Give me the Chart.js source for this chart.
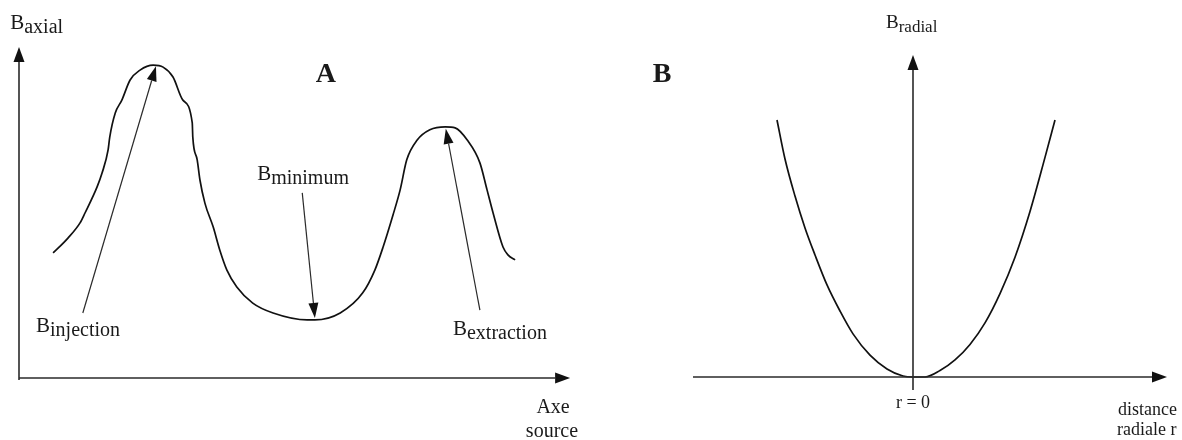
<!DOCTYPE html>
<html>
<head>
<meta charset="utf-8">
<script src="https://cdn.jsdelivr.net/npm/chart.js@4/dist/chart.umd.min.js"></script>
<style>
  html, body { margin: 0; padding: 0; background: #fff; }
  #wrap { position: relative; width: 1182px; height: 440px; overflow: hidden; }
  .panel { position: absolute; top: 0; height: 440px; }
  #panelA { left: 0; width: 600px; }
  #panelB { left: 600px; width: 582px; }
</style>
</head>
<body>
<div id="wrap">
  <div class="panel" id="panelA"><canvas id="chartA"></canvas></div>
  <div class="panel" id="panelB"><canvas id="chartB"></canvas></div>
</div>
<script>
// --- A: axial field profile along the source axis (arbitrary units) ---
const axialPos = [
  6.2, 8.9, 11.1, 12.0, 14.2, 15.1, 16.2, 16.5, 17.5, 18.7, 20.2, 22.0, 24.4,
  26.2, 28.0, 29.8, 31.5, 31.6, 32.4, 32.9, 33.8, 35.3, 36.5, 37.8, 39.6, 42.5,
  46.2, 52.4, 53.8, 58.4, 62.5, 64.7, 66.2, 68.0, 69.3, 70.5, 72.4, 74.7, 77.5,
  79.3, 81.5, 83.8, 85.1, 86.2, 88.0, 88.9, 90.2,
];
const axialField = [
  37.9, 42.4, 47.0, 50.0, 57.9, 62.1, 69.1, 73.0, 80.3, 84.2, 90.3, 93.3, 94.8,
  94.2, 91.2, 84.2, 77.3, 73.0, 66.1, 60.0, 53.0, 45.8, 38.8, 32.7, 27.6, 22.7,
  19.7, 17.6, 17.6, 19.7, 25.8, 32.7, 39.7, 49.4, 57.0, 66.1, 72.1, 75.2, 76.1,
  75.8, 72.1, 65.2, 57.0, 50.0, 39.7, 37.3, 35.8,
];

// --- B: radial field against radial distance r ---
const radialDist = [
  -6.8, -6.4, -5.9, -5.4, -4.9, -4.3, -3.65, -3.0, -2.15, -1.3, -0.5, 0,
  0.6, 1.35, 2.1, 2.85, 3.6, 4.35, 5.1, 5.85, 6.6, 7.1,
];
const radialField = [
  79.8, 67.7, 56.2, 46.3, 37.9, 28.6, 20.5, 13.4, 6.8, 2.5, 0.3, 0,
  0, 2.0, 5.3, 10.1, 16.8, 25.9, 37.2, 51.4, 68.2, 79.8,
];

// Axis arrows as [x0, y0, x1, y1] in data units
const axialAxes = [[0, 0, 100.2, 0], [0, -0.6, 0, 100.3]];
const radialAxes = [[-11, 0, 12.7, 0], [0, -4, 0, 100]];

// Pointer arrows on panel A: tail -> tip
const axialPointers = [
  [11.6, 19.7, 24.9, 94.5],
  [51.5, 56.1, 53.8, 18.2],
  [83.8, 20.6, 77.6, 75.5],
];

// B + subscript labels, anchored at left edge / baseline
const axialNames = ["axial", "injection", "minimum", "extraction"];
const axialNameX = [-1.6, 3.1, 43.3, 78.9];
const axialNameY = [105.8, 13.9, 60.0, 13.0];
const radialNames = ["radial"];
const radialNameX = [-1.35];
const radialNameY = [108.4];

// plain captions: [text, x, y, align]
const axialCaptions = [["Axe", 97.1, -10.6, "center"], ["source", 96.9, -17.9, "center"]];
const radialCaptions = [
  ["r = 0", 0, -9.6, "center"],
  ["distance", 10.25, -11.8, "left"],
  ["radiale r", 10.2, -18.0, "left"],
];

const INK = "#1a1a1a";
const SERIF = '"Liberation Serif", "DejaVu Serif", serif';

function drawArrow(ctx, x0, y0, x1, y1, width, headLen, headHalf) {
  const ang = Math.atan2(y1 - y0, x1 - x0);
  const bx = x1 - headLen * Math.cos(ang);
  const by = y1 - headLen * Math.sin(ang);
  ctx.lineWidth = width;
  ctx.beginPath();
  ctx.moveTo(x0, y0);
  ctx.lineTo(bx, by);
  ctx.stroke();
  ctx.beginPath();
  ctx.moveTo(x1, y1);
  ctx.lineTo(bx + headHalf * Math.sin(ang), by - headHalf * Math.cos(ang));
  ctx.lineTo(bx - headHalf * Math.sin(ang), by + headHalf * Math.cos(ang));
  ctx.closePath();
  ctx.fill();
}

// Draws arrowed axes, pointers and text straight onto the chart canvas
const sketchPlugin = {
  id: "sketch",
  afterDatasetsDraw(chart, args, opts) {
    const ctx = chart.ctx;
    const px = (v) => chart.scales.x.getPixelForValue(v);
    const py = (v) => chart.scales.y.getPixelForValue(v);
    ctx.save();
    ctx.strokeStyle = "#2a2a2a";
    ctx.fillStyle = "#111";

    (opts.axes || []).forEach((a) => {
      drawArrow(ctx, px(a[0]), py(a[1]), px(a[2]), py(a[3]), 1.6, 15, 5.5);
    });
    (opts.pointers || []).forEach((a) => {
      drawArrow(ctx, px(a[0]), py(a[1]), px(a[2]), py(a[3]), 1.2, 15, 5);
    });

    ctx.fillStyle = INK;
    ctx.textBaseline = "alphabetic";
    (opts.names || []).forEach((n) => {
      ctx.textAlign = "left";
      const x = px(n.x), y = py(n.y);
      ctx.font = opts.nameSize + "px " + SERIF;
      ctx.fillText("B", x, y);
      const w = ctx.measureText("B").width;
      ctx.font = opts.subSize + "px " + SERIF;
      ctx.fillText(n.sub, x + w, y + 4);
    });
    (opts.captions || []).forEach((c) => {
      ctx.font = opts.captionSize + "px " + SERIF;
      ctx.textAlign = c[3];
      ctx.fillText(c[0], px(c[1]), py(c[2]));
    });
    if (opts.letter) {
      ctx.font = "bold 28px " + SERIF;
      ctx.textAlign = "center";
      ctx.fillText(opts.letter.text, px(opts.letter.x), py(opts.letter.y));
    }
    ctx.restore();
  },
};

function makeChart(id, xs, ys, range, padding, sketch) {
  return new Chart(document.getElementById(id), {
    type: "scatter",
    data: {
      datasets: [{
        data: xs.map((x, i) => ({ x, y: ys[i] })),
        showLine: true,
        borderColor: "#111",
        borderWidth: 1.7,
        pointRadius: 0,
        fill: false,
        cubicInterpolationMode: "monotone",
        clip: false,
      }],
    },
    options: {
      responsive: true,
      maintainAspectRatio: false,
      animation: false,
      layout: { padding },
      scales: {
        x: { type: "linear", min: range[0], max: range[1], display: false },
        y: { type: "linear", min: range[2], max: range[3], display: false },
      },
      plugins: {
        legend: { display: false },
        tooltip: { enabled: false },
        sketch,
      },
    },
    plugins: [sketchPlugin],
  });
}

makeChart("chartA", axialPos, axialField, [0, 100, 0, 100],
  { left: 19, right: 31, top: 48, bottom: 62 },
  {
    axes: axialAxes,
    pointers: axialPointers,
    names: axialNames.map((sub, i) => ({ sub, x: axialNameX[i], y: axialNameY[i] })),
    nameSize: 21,
    subSize: 20,
    captions: axialCaptions,
    captionSize: 20,
    letter: { text: "A", x: 55.8, y: 89.7 },
  });

makeChart("chartB", radialDist, radialField, [-11, 12.7, 0, 100],
  { left: 93, right: 15, top: 55, bottom: 63 },
  {
    axes: radialAxes,
    names: radialNames.map((sub, i) => ({ sub, x: radialNameX[i], y: radialNameY[i] })),
    nameSize: 19,
    subSize: 17,
    captions: radialCaptions,
    captionSize: 18,
    letter: { text: "B", x: -12.55, y: 91.6 },
  });
</script>
</body>
</html>
